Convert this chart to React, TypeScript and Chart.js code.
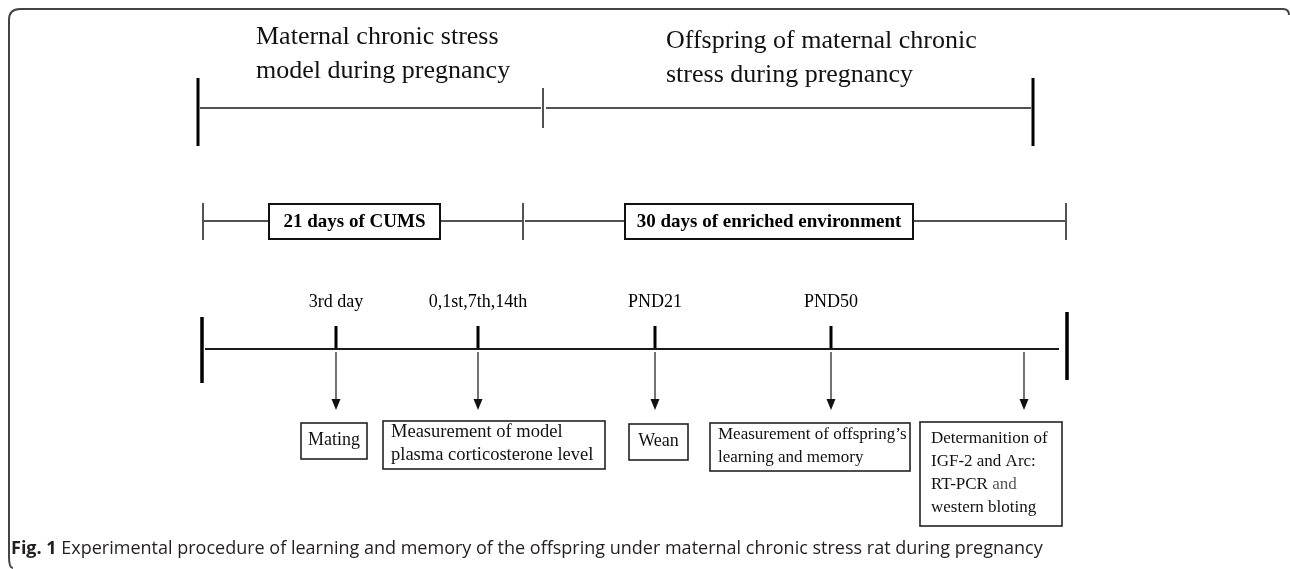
import React, { useEffect, useRef } from "react";
import { Chart, registerables } from "chart.js";

Chart.register(...registerables);

// ---- data (diagram content) ----
const phaseTitles = [
  ["Maternal chronic stress", "model during pregnancy"],
  ["Offspring of maternal chronic", "stress during pregnancy"],
];
const phaseBounds = [198, 543, 1033]; // row 1 bars
const treatmentLabels = ["21 days of CUMS", "30 days of enriched environment"];
const treatmentBounds = [203, 523, 1066]; // row 2 ticks
const treatmentBoxes = [
  [269, 440],
  [625, 913],
];
const eventLabels = ["3rd day", "0,1st,7th,14th", "PND21", "PND50", ""];
const eventX = [336, 478, 655, 831, 1024];
const eventTicks = [true, true, true, true, false];
const outcomeLabels = [
  ["Mating"],
  ["Measurement of model", "plasma corticosterone level"],
  ["Wean"],
  ["Measurement of offspring\u2019s", "learning and memory"],
  ["Determanition of", "IGF-2 and Arc:", "RT-PCR and", "western bloting"],
];
const outcomeBoxX = [
  [301, 367],
  [383, 605],
  [629, 688],
  [710, 910],
  [920, 1062],
];
const outcomeBoxY = [
  [423, 459],
  [421, 469],
  [424, 460],
  [423, 471],
  [422, 526],
];
const captionBold = "Fig. 1";
const captionText =
  " Experimental procedure of learning and memory of the offspring under maternal chronic stress rat during pregnancy";

// ---- layout ----
const W = 1290;
const H = 569;
const ROW1 = 108;
const ROW2 = 221;
const ROW3 = 349;
const timelineEnd = [205, 1059];
const bar3 = [202, 1067];
const outcomeFont = [18, 18.5, 18, 17, 17];
const SERIF = '"Liberation Serif", "Times New Roman", serif';

function seg(x0: number, y0: number, x1: number, y1: number, w: number, color = "#1a1a1a") {
  return {
    data: [
      { x: x0, y: y0 },
      { x: x1, y: y1 },
    ],
    showLine: true,
    borderColor: color,
    borderWidth: w,
    pointRadius: 0,
    borderCapStyle: "butt" as const,
  };
}

function buildDatasets() {
  const ds: any[] = [];
  // Row 1
  ds.push(seg(phaseBounds[0] + 2, ROW1, phaseBounds[1] - 2, ROW1, 1.5));
  ds.push(seg(phaseBounds[1] + 3, ROW1, phaseBounds[2] - 2, ROW1, 1.5));
  ds.push(seg(phaseBounds[0], 78, phaseBounds[0], 146, 3, "#000"));
  ds.push(seg(phaseBounds[1], 88, phaseBounds[1], 128, 1.5));
  ds.push(seg(phaseBounds[2], 78, phaseBounds[2], 146, 3, "#000"));
  // Row 2
  ds.push(seg(treatmentBounds[0] + 1, ROW2, treatmentBoxes[0][0], ROW2, 1.5));
  ds.push(seg(treatmentBoxes[0][1], ROW2, treatmentBounds[1] - 1, ROW2, 1.5));
  ds.push(seg(treatmentBounds[1] + 2, ROW2, treatmentBoxes[1][0], ROW2, 1.5));
  ds.push(seg(treatmentBoxes[1][1], ROW2, treatmentBounds[2] - 1, ROW2, 1.5));
  treatmentBounds.forEach((x) => ds.push(seg(x, 203, x, 240, 1.5)));
  // Row 3
  ds.push(seg(timelineEnd[0], ROW3, timelineEnd[1], ROW3, 2));
  ds.push(seg(bar3[0], 317, bar3[0], 383, 3.5, "#000"));
  ds.push(seg(bar3[1], 312, bar3[1], 380, 3.5, "#000"));
  eventX.forEach((x, i) => {
    if (eventTicks[i]) ds.push(seg(x, 326, x, ROW3, 3, "#000"));
    ds.push(seg(x, ROW3 + 3, x, 402, 1.3, "#2a2a2a"));
  });
  return ds;
}

const diagramPlugin = {
  id: "diagram",
  afterDatasetsDraw(chart: any) {
    const ctx: CanvasRenderingContext2D = chart.ctx;
    const xs = chart.scales.x;
    const ys = chart.scales.y;
    const px = (v: number) => xs.getPixelForValue(v);
    const py = (v: number) => ys.getPixelForValue(v);
    ctx.save();

    // frame
    ctx.strokeStyle = "#444";
    ctx.lineWidth = 2;
    ctx.beginPath();
    const fx0 = px(9), fy0 = py(9), fx1 = px(1289), fy1 = py(568), r = 11;
    ctx.moveTo(fx0, fy1 - r);
    ctx.lineTo(fx0, fy0 + r);
    ctx.quadraticCurveTo(fx0, fy0, fx0 + r, fy0);
    ctx.lineTo(fx1 - 6, fy0);
    ctx.quadraticCurveTo(fx1, fy0, fx1, fy0 + 6);
    ctx.stroke();
    ctx.beginPath();
    ctx.moveTo(fx0, fy1 - r);
    ctx.quadraticCurveTo(fx0, fy1, fx0 + 4, fy1);
    ctx.stroke();

    // phase titles
    ctx.fillStyle = "#111";
    ctx.textBaseline = "alphabetic";
    ctx.textAlign = "left";
    ctx.font = `26px ${SERIF}`;
    const titleX = [256, 666];
    const titleY = [[44, 78], [48, 82]];
    phaseTitles.forEach((lines, i) => {
      lines.forEach((t, j) => ctx.fillText(t, px(titleX[i]), py(titleY[i][j])));
    });

    // treatment boxes
    ctx.font = `bold 19px ${SERIF}`;
    ctx.textAlign = "center";
    ctx.textBaseline = "middle";
    treatmentLabels.forEach((t, i) => {
      const [a, b] = treatmentBoxes[i];
      ctx.strokeStyle = "#111";
      ctx.lineWidth = 2;
      ctx.strokeRect(px(a), py(204), px(b) - px(a), py(239) - py(204));
      ctx.fillStyle = "#000";
      ctx.fillText(t, (px(a) + px(b)) / 2, py(ROW2 + 1));
    });

    // event labels
    ctx.font = `18px ${SERIF}`;
    eventLabels.forEach((t, i) => {
      if (t) ctx.fillText(t, px(eventX[i]), py(302));
    });

    // arrow heads
    ctx.fillStyle = "#111";
    eventX.forEach((x) => {
      ctx.beginPath();
      ctx.moveTo(px(x) - 4.5, py(399));
      ctx.lineTo(px(x) + 4.5, py(399));
      ctx.lineTo(px(x), py(410));
      ctx.closePath();
      ctx.fill();
    });

    // outcome boxes
    ctx.textAlign = "left";
    ctx.textBaseline = "middle";
    outcomeLabels.forEach((lines, i) => {
      ctx.font = `${outcomeFont[i]}px ${SERIF}`;
      const [a, b] = outcomeBoxX[i];
      const [c, d] = outcomeBoxY[i];
      ctx.strokeStyle = "#222";
      ctx.lineWidth = 1.6;
      ctx.strokeRect(px(a), py(c), px(b) - px(a), py(d) - py(c));
      const lh = 23;
      const mid = (c + d) / 2;
      const start = mid - ((lines.length - 1) * lh) / 2;
      const padL = lines.length === 1 ? (px(b) - px(a) - ctx.measureText(lines[0]).width) / 2 : i === 4 ? 11 : 8;
      lines.forEach((t, j) => {
        const yy = py(start + j * lh - 1);
        if (t === "RT-PCR and") {
          ctx.fillStyle = "#111";
          ctx.fillText("RT-PCR ", px(a) + padL, yy);
          const w = ctx.measureText("RT-PCR ").width;
          ctx.fillStyle = "#555";
          ctx.fillText("and", px(a) + padL + w, yy);
        } else {
          ctx.fillStyle = "#111";
          ctx.fillText(t, px(a) + padL, yy);
        }
      });
    });

    // caption
    ctx.textBaseline = "alphabetic";
    ctx.fillStyle = "#231f20";
    ctx.font = `bold 18px "Open Sans", sans-serif`;
    ctx.fillText(captionBold, px(11), py(554));
    const bw = ctx.measureText(captionBold).width;
    ctx.font = `18px "Open Sans", sans-serif`;
    ctx.fillText(captionText, px(11) + bw, py(554));

    ctx.restore();
  },
};

export default function App() {
  const ref = useRef<HTMLCanvasElement | null>(null);
  useEffect(() => {
    document.body.style.margin = "0";
    const chart = new Chart(ref.current as HTMLCanvasElement, {
      type: "scatter",
      data: { datasets: buildDatasets() },
      options: {
        animation: false,
        responsive: false,
        maintainAspectRatio: false,
        layout: { padding: 0 },
        plugins: { legend: { display: false }, tooltip: { enabled: false } },
        scales: {
          x: { type: "linear", min: 0, max: W, display: false },
          y: { type: "linear", min: 0, max: H, reverse: true, display: false },
        },
      },
      plugins: [diagramPlugin],
    });
    return () => chart.destroy();
  }, []);
  return (
    <div style={{ position: "fixed", left: 0, top: 0, width: W, height: H, background: "#fff" }}>
      <canvas ref={ref} width={W} height={H} style={{ display: "block" }} />
    </div>
  );
}
